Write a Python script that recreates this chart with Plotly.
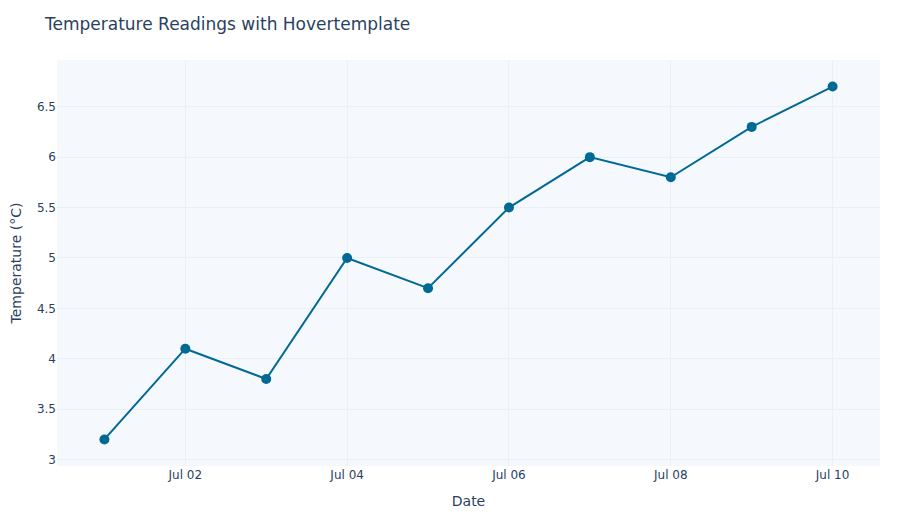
import plotly.graph_objects as go

dates = ["2024-07-01", "2024-07-02", "2024-07-03", "2024-07-04", "2024-07-05",
         "2024-07-06", "2024-07-07", "2024-07-08", "2024-07-09", "2024-07-10"]
temps = [3.2, 4.1, 3.8, 5.0, 4.7, 5.5, 6.0, 5.8, 6.3, 6.7]

fig = go.Figure()
fig.add_trace(go.Scatter(
    x=dates, y=temps, mode="lines+markers",
    line=dict(color="#006994", width=2),
    marker=dict(size=10, color="#006994"),
    hovertemplate="Date: %{x|%b %d}<br>Temp: %{y:.1f}°C<extra></extra>",
))

# page has an 8px body margin, so size/offsets are trimmed to match
fig.update_layout(
    template="plotly_white",
    title=dict(text="Temperature Readings with Hovertemplate",
               x=37 / 892, y=1 - 16 / 512, yanchor="middle"),
    xaxis_title="Date",
    yaxis_title="Temperature (°C)",
    plot_bgcolor="#f5f9fe",
    font=dict(family="DejaVu Sans"),
    width=892, height=512,
    margin=dict(l=49, r=20, t=52, b=54),
)
fig.update_xaxes(tickformat="%b %d")
fig.update_yaxes(automargin=False)

fig.write_html("out.html")
